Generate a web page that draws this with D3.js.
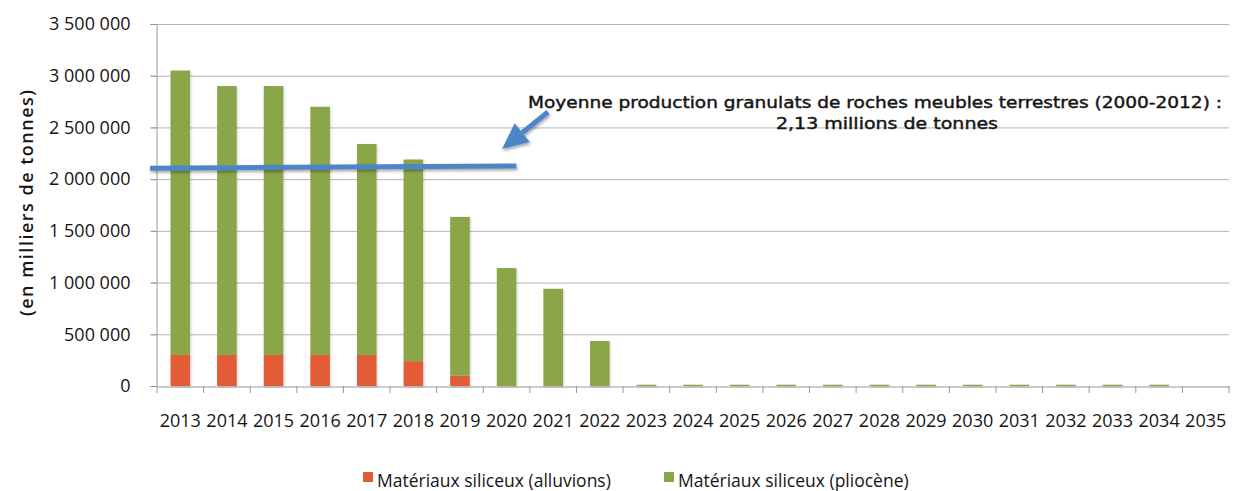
<!DOCTYPE html>
<html><head><meta charset="utf-8">
<script src="https://cdn.jsdelivr.net/npm/d3@7"></script>
<style>
body{margin:0;background:#fff;}
svg text{font-family:"Open Sans",sans-serif;fill:#151515;}
</style></head>
<body><svg id="c" width="1240" height="491"></svg>
<script>
const years = ["2013","2014","2015","2016","2017","2018","2019","2020","2021","2022","2023","2024","2025","2026","2027","2028","2029","2030","2031","2032","2033","2034","2035"];
const alluvions = [300000,300000,300000,300000,300000,240000,100000,0,0,0,0,0,0,0,0,0,0,0,0,0,0,0,0];
const pliocene = [2750000,2600000,2600000,2400000,2040000,1950000,1535000,1140000,940000,435000,12000,12000,12000,12000,12000,12000,12000,12000,12000,12000,12000,12000,0];
const yTicks = [0,500000,1000000,1500000,2000000,2500000,3000000,3500000];
const seriesNames = ["Matériaux siliceux (alluvions)","Matériaux siliceux (pliocène)"];
const averageValue = 2130000;
const annotationLines = ["Moyenne production granulats de roches meubles terrestres (2000-2012) :","2,13 millions de tonnes"];
const yTitle = "(en milliers de tonnes)";
const colors = ["#e35b37","#8ba549"];

(function(){
const svg = d3.select("#c");
const pL = 157, pR = 1229, pT = 24, pB = 386;
const x = d3.scaleBand().domain(years).range([pL,pR]).paddingInner(0.58).paddingOuter(0.29);
const y = d3.scaleLinear().domain([0,3500000]).range([pB,pT]);
const fmt = v => d3.format(",")(v).replace(/,/g," ");

const defs = svg.append("defs");
const f = defs.append("filter").attr("id","sh").attr("x","-20%").attr("y","-50%").attr("width","140%").attr("height","200%");
f.append("feDropShadow").attr("dx",1).attr("dy",2).attr("stdDeviation",1.6).attr("flood-color","#000").attr("flood-opacity",0.35);
const fb = defs.append("filter").attr("id","shb").attr("x","-10%").attr("y","-10%").attr("width","130%").attr("height","130%");
fb.append("feDropShadow").attr("dx",1).attr("dy",1).attr("stdDeviation",1).attr("flood-color","#000").attr("flood-opacity",0.18);

// gridlines
svg.append("g").selectAll("line").data(yTicks.slice(1)).join("line")
  .attr("x1",pL-6).attr("x2",pR).attr("y1",d=>y(d)+0.5).attr("y2",d=>y(d)+0.5)
  .attr("stroke","#b4b4b4").attr("stroke-width",1);

// y axis
const ya = svg.append("g").attr("transform",`translate(${pL-0.5},0)`)
  .call(d3.axisLeft(y).tickValues(yTicks).tickFormat(fmt).tickSize(6).tickPadding(20));
ya.select(".domain").attr("stroke","#999");
ya.selectAll(".tick line").attr("stroke","#999");
ya.selectAll("text").style("font-size","18px").style("font-family","Open Sans").attr("fill","#151515");

// x axis
const xa = svg.append("g").attr("transform",`translate(0,${pB+0.5})`)
  .call(d3.axisBottom(x).tickSize(0).tickPadding(28));
xa.select(".domain").attr("stroke","#999");
xa.selectAll("text").style("font-size","18px").style("font-family","Open Sans").attr("fill","#151515");
const step = x.step();
svg.append("g").selectAll("line").data(d3.range(years.length+1)).join("line")
  .attr("x1",i=>pL+i*step).attr("x2",i=>pL+i*step)
  .attr("y1",pB).attr("y2",pB+7).attr("stroke","#999");

// stacked bars
const rows = years.map((yr,i)=>({year:yr, alluvions:alluvions[i], pliocene:pliocene[i]}));
const stack = d3.stack().keys(["alluvions","pliocene"])(rows);
svg.append("g").attr("filter","url(#shb)").selectAll("g").data(stack).join("g")
  .attr("fill",(d,i)=>colors[i])
  .selectAll("rect").data(d=>d).join("rect")
  .attr("x",d=>x(d.data.year)).attr("width",x.bandwidth())
  .attr("y",d=>y(d[1])).attr("height",d=>Math.max(0,y(d[0])-y(d[1])));

// average line
const ag = svg.append("g").attr("filter","url(#sh)");
ag.append("line")
  .attr("x1",pL-7).attr("x2",x("2020")+x.bandwidth())
  .attr("y1",y(averageValue)+2.5).attr("y2",y(averageValue)+0.2)
  .attr("stroke","#4b86c8").attr("stroke-width",5);
const tipX = 502, tipY = 149, tailX = 548, tailY = 112;
const ang = Math.atan2(tipY-tailY, tipX-tailX);
const hl = 26, hw = 12;
const bx = tipX - hl*Math.cos(ang), by = tipY - hl*Math.sin(ang);
ag.append("line").attr("x1",tailX).attr("y1",tailY).attr("x2",bx).attr("y2",by)
  .attr("stroke","#4b86c8").attr("stroke-width",5);
ag.append("polygon").attr("fill","#4b86c8")
  .attr("points",[[tipX,tipY],[bx+hw*Math.sin(ang),by-hw*Math.cos(ang)],[bx-hw*Math.sin(ang),by+hw*Math.cos(ang)]].map(p=>p.join(",")).join(" "));

// annotation
const at = svg.append("g");
at.append("text").attr("x",528).attr("y",108)
  .attr("textLength",694).attr("lengthAdjust","spacingAndGlyphs")
  .style("font-family","DejaVu Sans").style("font-size","16.5px")
  .attr("stroke","#151515").attr("stroke-width",0.45).text(annotationLines[0]);
at.append("text").attr("x",776).attr("y",129)
  .attr("textLength",222).attr("lengthAdjust","spacingAndGlyphs")
  .style("font-family","DejaVu Sans").style("font-size","16.5px")
  .attr("stroke","#151515").attr("stroke-width",0.45).text(annotationLines[1]);

// y title
svg.append("text").attr("transform","translate(33,203) rotate(-90)").attr("text-anchor","middle")
  .attr("textLength",226).attr("lengthAdjust","spacing")
  .style("font-size","18px").style("font-weight","600").text(yTitle);

// legend
const lg = svg.append("g");
const lx = [363,664];
seriesNames.forEach((n,i)=>{
  lg.append("rect").attr("x",lx[i]).attr("y",472).attr("width",10).attr("height",10).attr("fill",colors[i]);
  lg.append("text").attr("x",lx[i]+14).attr("y",487).style("font-size","17.5px").text(n);
});
})();
</script></body></html>
